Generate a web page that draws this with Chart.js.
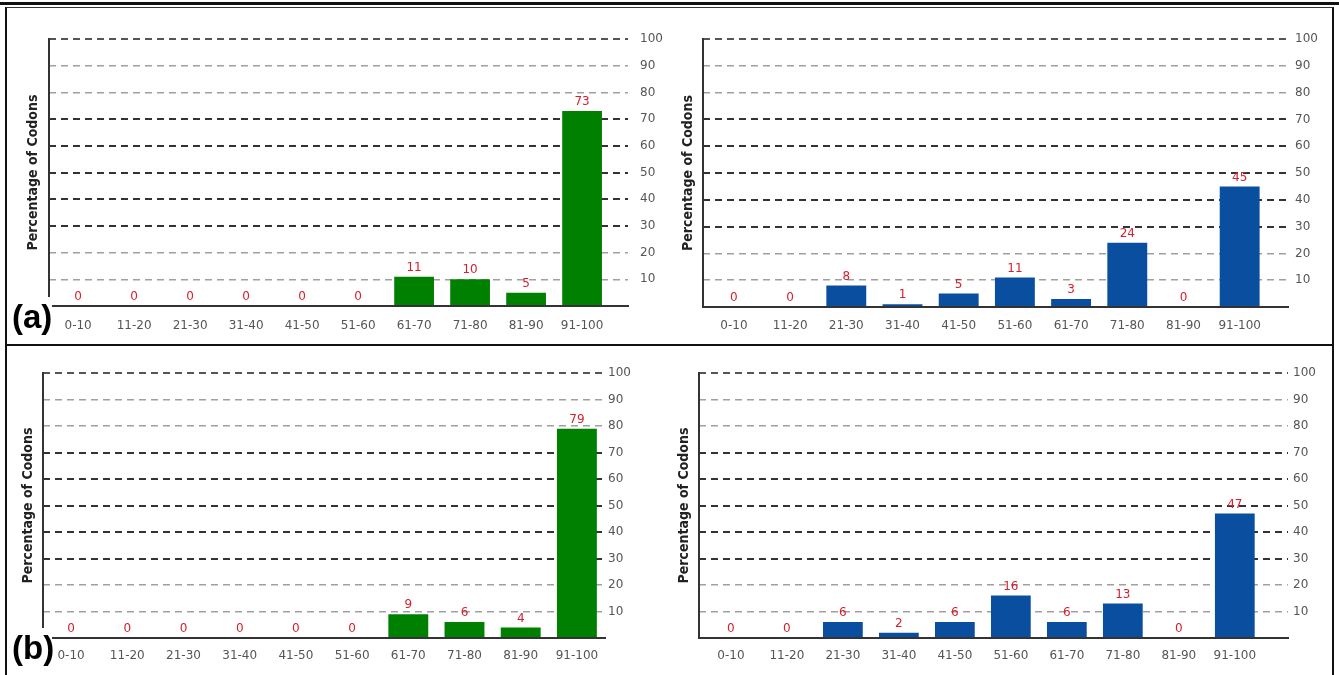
<!DOCTYPE html>
<html>
<head>
<meta charset="utf-8">
<script src="https://cdn.jsdelivr.net/npm/chart.js@4.4.1/dist/chart.umd.min.js"></script>
<style>
  html, body { margin: 0; padding: 0; background: #fff; }
  body { width: 1339px; height: 675px; position: relative; overflow: hidden; }
  canvas { position: absolute; }
  .rule { position: absolute; background: #111; }
  .tag { position: absolute; background: #fff; color: #000;
         font: bold 33px "Liberation Sans", Arial, sans-serif; line-height: 40px; padding-left: 5px; }
</style>
</head>
<body>
<div class="rule" style="left:0;top:2px;width:1339px;height:3px"></div>
<div style="position:absolute;left:5px;top:7px;width:1325px;height:700px;border-left:2px solid #111;border-right:2px solid #111;border-top:1px solid #333"></div>
<div class="rule" style="left:5px;top:344px;width:1329px;height:2px"></div>

<canvas id="panelA1"></canvas>
<canvas id="panelA2"></canvas>
<canvas id="panelB1"></canvas>
<canvas id="panelB2"></canvas>

<div class="tag" style="left:7px;top:297px;width:40px;height:46px">(a)</div>
<div class="tag" style="left:7px;top:628px;width:40px;height:47px">(b)</div>

<script>
// codon adaptation bins
const bins = ['0-10', '11-20', '21-30', '31-40', '41-50', '51-60', '61-70', '71-80', '81-90', '91-100'];

// percentage of codons per bin, one array per panel
const codonsA1 = [0, 0, 0, 0, 0, 0, 11, 10, 5, 73];
const codonsA2 = [0, 0, 8, 1, 5, 11, 3, 24, 0, 45];
const codonsB1 = [0, 0, 0, 0, 0, 0, 9, 6, 4, 79];
const codonsB2 = [0, 0, 6, 2, 6, 16, 6, 13, 0, 47];

const yTicks = [10, 20, 30, 40, 50, 60, 70, 80, 90, 100];
const lightLines = [10, 20, 80, 90];

const GREEN = '#008000';
const BLUE = '#0a4f9f';

// draws the red number above every bar
const valueLabels = {
    id: 'valueLabels',
    afterDatasetsDraw(chart) {
        const ctx = chart.ctx;
        const meta = chart.getDatasetMeta(0);
        const data = chart.data.datasets[0].data;
        ctx.save();
        ctx.font = '12px "DejaVu Sans"';
        ctx.fillStyle = '#d2222f';
        ctx.textAlign = 'center';
        ctx.textBaseline = 'bottom';
        meta.data.forEach((bar, i) => {
            ctx.fillText(String(data[i].y), bar.x, bar.y - 3);
        });
        ctx.restore();
    }
};

function makePanel(id, values, color, box) {
    const canvas = document.getElementById(id);
    canvas.width = box.cw;
    canvas.height = box.ch;
    canvas.style.left = box.cx + 'px';
    canvas.style.top = box.cy + 'px';

    const titleFont = { family: '"DejaVu Sans Condensed", "Liberation Sans Narrow", sans-serif', size: 14, weight: 'bold' };

    return new Chart(canvas, {
        type: 'bar',
        data: {
            datasets: [{
                data: values.map((v, i) => ({ x: i, y: v })),
                backgroundColor: color,
                borderWidth: 0,
                barPercentage: 0.71,
                categoryPercentage: 1,
                yAxisID: 'y'
            }]
        },
        options: {
            responsive: false,
            animation: false,
            layout: { padding: { top: box.top - box.cy, left: 0, right: 0, bottom: 0 } },
            plugins: {
                legend: { display: false },
                tooltip: { enabled: false }
            },
            scales: {
                x: {
                    type: 'linear',
                    offset: false,
                    min: box.min,
                    max: box.max,
                    afterBuildTicks: (s) => { s.ticks = bins.map((b, i) => ({ value: i })); },
                    grid: { display: false },
                    border: { display: true, color: '#333', width: 2 },
                    ticks: {
                        autoSkip: false,
                        maxRotation: 0,
                        padding: box.labelPad,
                        color: '#555',
                        font: { family: '"DejaVu Sans", sans-serif', size: 12 },
                        callback: (v) => bins[v]
                    },
                    afterFit: (s) => { s.height = box.cy + box.ch - box.bottom; }
                },
                y: {
                    position: 'right',
                    min: 0,
                    max: 100,
                    afterBuildTicks: (s) => { s.ticks = [{ value: 0 }].concat(yTicks.map(v => ({ value: v }))); },
                    grid: {
                        drawTicks: false,
                        lineWidth: (c) => (c.tick && lightLines.includes(c.tick.value)) ? 1.5 : 2,
                        color: (c) => {
                            const v = c.tick ? c.tick.value : 0;
                            if (v === 0) return 'rgba(0,0,0,0)';
                            if (lightLines.includes(v)) return '#a0a0a0';
                            return v === 100 ? '#555' : '#333';
                        }
                    },
                    border: { display: false, dash: [7, 5] },
                    ticks: {
                        padding: box.tickPad,
                        color: '#555',
                        font: { family: '"DejaVu Sans", sans-serif', size: 12 },
                        callback: (v) => v === 0 ? '' : v
                    },
                    afterFit: (s) => { s.width = box.cx + box.cw - box.right; }
                },
                yl: {
                    position: 'left',
                    min: 0,
                    max: 100,
                    grid: { display: false },
                    ticks: { display: false },
                    border: { display: true, color: '#333', width: 2 },
                    title: {
                        display: true,
                        text: 'Percentage of Codons',
                        color: '#222',
                        font: titleFont,
                        padding: { top: box.titleX - box.cx - 8.4, bottom: 0 }
                    },
                    afterFit: (s) => { s.width = box.left - box.cx; }
                }
            }
        },
        plugins: [valueLabels]
    });
}

document.addEventListener('DOMContentLoaded', function() {
    makePanel('panelA1', codonsA1, GREEN,
        { cx: 8, cy: 9, cw: 660, ch: 334, left: 49, right: 628, top: 39, bottom: 306,
          min: -0.52, max: 9.82, tickPad: 12, labelPad: 5, titleX: 33 });
    makePanel('panelA2', codonsA2, BLUE,
        { cx: 668, cy: 9, cw: 664, ch: 334, left: 703, right: 1288, top: 39, bottom: 307,
          min: -0.55, max: 9.86, tickPad: 7, labelPad: 4, titleX: 688 });
    makePanel('panelB1', codonsB1, GREEN,
        { cx: 8, cy: 347, cw: 660, ch: 328, left: 43, right: 605, top: 373, bottom: 638,
          min: -0.5, max: 9.5, tickPad: 3, labelPad: 3, titleX: 28 });
    makePanel('panelB2', codonsB2, BLUE,
        { cx: 668, cy: 347, cw: 664, ch: 328, left: 699, right: 1288, top: 373, bottom: 638,
          min: -0.57, max: 9.95, tickPad: 5, labelPad: 3, titleX: 684 });
});
</script>
</body>
</html>
